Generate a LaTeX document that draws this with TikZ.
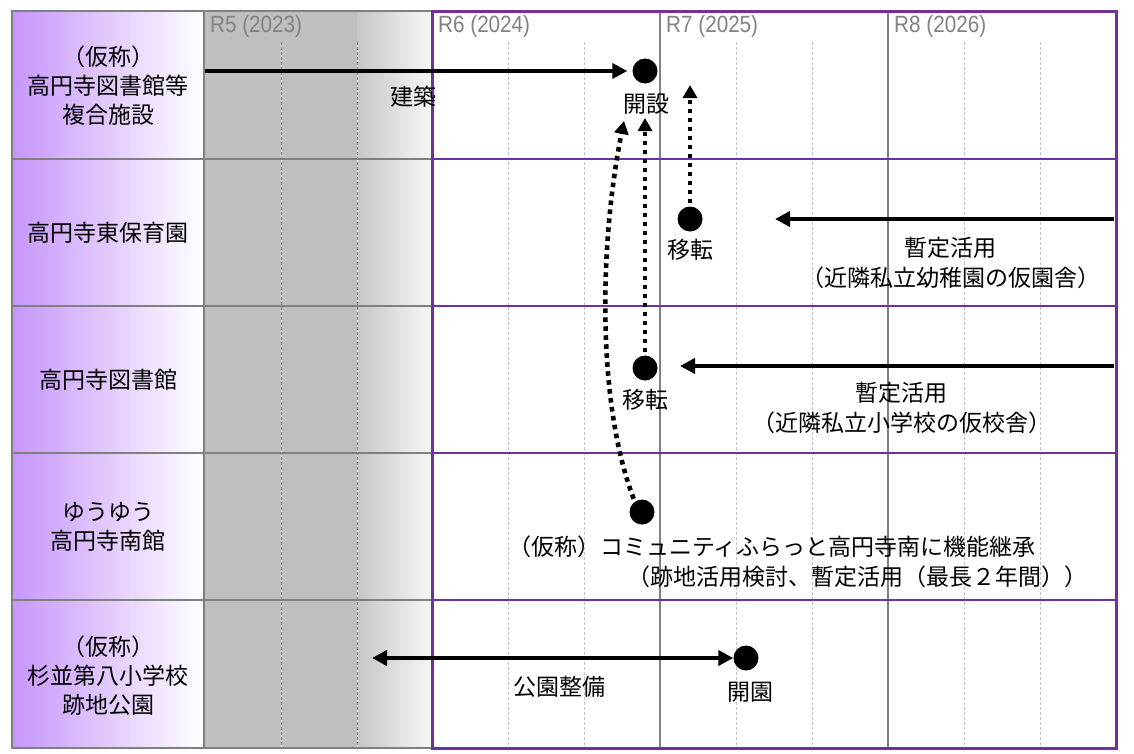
\documentclass[tikz,border=0pt]{standalone}
\usepackage{fontspec}
\setmainfont{Noto Sans CJK JP}
\newfontfamily\yearfont[FakeStretch=0.88]{Liberation Sans}
\usetikzlibrary{arrows.meta}
\definecolor{lav}{RGB}{198,150,250}
\definecolor{gridgray}{RGB}{128,128,128}
\definecolor{lightgraytwo}{RGB}{192,192,192}
\definecolor{shadegray}{RGB}{191,191,191}
\definecolor{shadegraytwo}{RGB}{198,198,198}
\definecolor{framepurple}{RGB}{112,48,160}
\definecolor{yeargray}{RGB}{130,130,130}
\begin{document}
\begin{tikzpicture}[x=1pt,y=-1pt,
  jp/.style={font=\fontsize{23}{29}\selectfont, inner sep=0pt, align=center},
  yearlabel/.style={font=\yearfont\fontsize{23.5}{23.5}\selectfont, text=yeargray, anchor=west, inner sep=0pt},
  dotnode/.style={circle, fill=black, minimum size=25pt, inner sep=0pt},
  solidarrow/.style={line width=4pt, -{Triangle[length=15pt,width=15pt]}},
  bothsolid/.style={line width=4pt, {Triangle[length=15pt,width=15pt]}-{Triangle[length=15pt,width=15pt]}},
  dotarrow/.style={line width=4.6pt, dash pattern=on 4.6pt off 4.4pt, -{Triangle[length=13pt,width=14pt]}},
  qdash/.style={draw=lightgraytwo, line width=1pt, dash pattern=on 3pt off 2pt},
  qdashgrey/.style={draw=gridgray, line width=1pt, dash pattern=on 3pt off 2pt},
  yearline/.style={draw=gridgray, line width=1.5pt},
  greyrule/.style={draw=gridgray, line width=2pt},
  purplerule/.style={draw=framepurple, line width=2pt},
]
\useasboundingbox (0,0) rectangle (1134,753);
\fill[white] (0,0) rectangle (1134,753);

% left label column
\shade[left color=lav, right color=white] (12,11) rectangle (204,748);
% grey past period
\fill[shadegray] (204,11) rectangle (357,748);
\shade[left color=shadegraytwo, right color=white!97!black] (357,11) rectangle (432,748);

% quarter dashed lines in grey region
\foreach \x in {281,357} {
  \draw[white, line width=1pt] (\x,42) -- (\x,748);
  \draw[qdashgrey] (\x,42) -- (\x,748);
}
% quarter dashed lines in white region
\foreach \x in {508,584,736,812,964,1040} {
  \draw[qdash] (\x,42) -- (\x,748);
}
% year lines
\foreach \x in {660,888} {
  \draw[yearline] (\x,11) -- (\x,748);
}
% row rules
\foreach \y in {159,306,453,600} {
  \draw[greyrule] (12,\y) -- (432,\y);
  \draw[purplerule] (432,\y) -- (1116,\y);
}
\draw[greyrule] (12,11) rectangle (432,748);
\draw[greyrule] (204,11) -- (204,748);
\draw[draw=framepurple, line width=3pt] (432,11) rectangle (1116,748);

% year labels
\node[yearlabel] (y5) at (210,26) {R5 (2023)};
\node[yearlabel] (y6) at (438,26) {R6 (2024)};
\node[yearlabel] (y7) at (666,26) {R7 (2025)};
\node[yearlabel] (y8) at (894,26) {R8 (2026)};

% row labels
\node[jp] (r1) at (108,86) {（仮称）\\高円寺図書館等\\複合施設};
\node[jp] (r2) at (108,233) {高円寺東保育園};
\node[jp] (r3) at (108,380) {高円寺図書館};
\node[jp] (r4) at (108,527) {ゆうゆう\\高円寺南館};
\node[jp] (r5) at (108,676) {（仮称）\\杉並第八小学校\\跡地公園};

% milestone dots
\node[dotnode] (c1) at (645,71) {};
\node[dotnode] (c2) at (690,219) {};
\node[dotnode] (c3) at (645,368) {};
\node[dotnode] (c4) at (642,512) {};
\node[dotnode] (c5) at (746,658) {};

% texts
\node[jp] (t1) at (413,97) {建築};
\node[jp] (l1) at (646,104) {開設};
\node[jp] (l2) at (690,250) {移転};
\node[jp] (l3) at (645,400) {移転};
\node[jp] (n2a) at (950,248) {暫定活用};
\node[jp] (n2b) at (951,278) {（近隣私立幼稚園の仮園舎）};
\node[jp] (n3a) at (901,393) {暫定活用};
\node[jp] (n3b) at (902,423) {（近隣私立小学校の仮校舎）};
\node[jp] (n4a) at (772,547) {（仮称）コミュニティふらっと高円寺南に機能継承};
\node[jp] (n4b) at (857,577) {（跡地活用検討、暫定活用（最長２年間））};
\node[jp] (n5a) at (559,687) {公園整備};
\node[jp] (n5b) at (750,692) {開園};

% connector end points
\coordinate (s1) at (205,71);
\coordinate (s2) at (1114,219);
\coordinate (e2) at (775,219);
\coordinate (s3) at (1114,366);
\coordinate (e3) at (680,366);
\coordinate (s5) at (372,658);
\coordinate (t2) at (690,85);
\coordinate (t3) at (645,118);
\coordinate (t4) at (624,121);

% solid arrows
\draw[solidarrow, shorten >=5pt] (s1) -- (c1);
\draw[solidarrow] (s2) -- (e2);
\draw[solidarrow] (s3) -- (e3);
\draw[bothsolid] (s5) -- (c5);

% dotted arrows
\draw[dotarrow, shorten <=3pt] (c2.north) -- (t2);
\draw[dotarrow, shorten <=3pt] (c3.north) -- (t3);
\draw[dotarrow, shorten <=3pt] (c4.125) .. controls (596,400) and (600,240) .. (t4);
\end{tikzpicture}
\end{document}
